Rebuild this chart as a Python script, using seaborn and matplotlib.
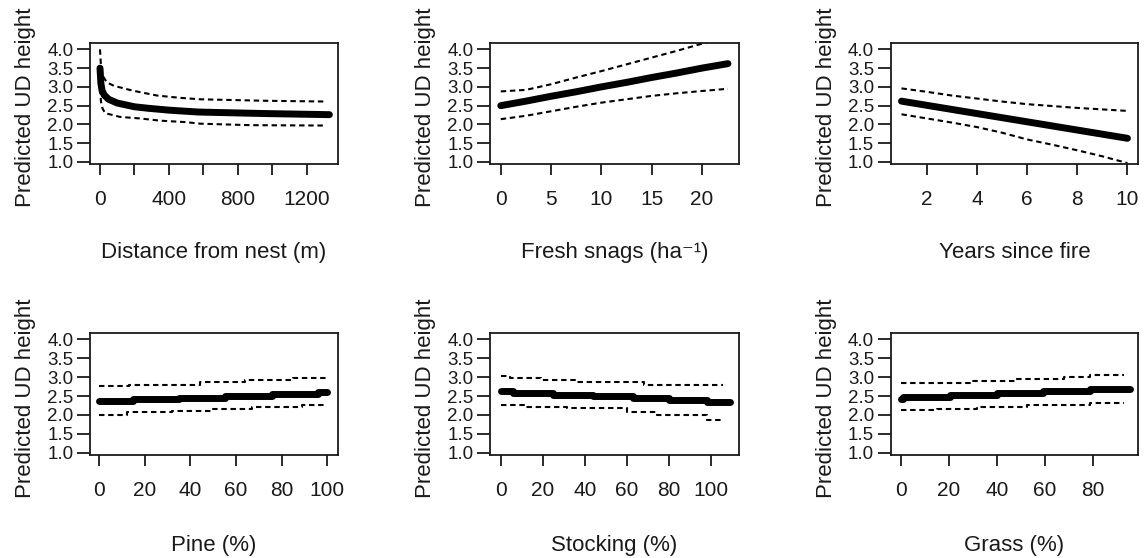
import numpy as np
import pandas as pd
import matplotlib
matplotlib.use("Agg")
import matplotlib.pyplot as plt
import seaborn as sns

sns.set_theme(style="white")
plt.rcParams["font.family"] = ["Liberation Sans", "DejaVu Sans"]

# ---------------- data ----------------
# Panel 1: distance from nest
dist_fit_x = [0, 5, 12, 25, 50, 100, 200, 280, 400, 570, 950, 1330]
dist_fit_y = [3.50, 3.10, 2.90, 2.78, 2.67, 2.57, 2.47, 2.43, 2.38, 2.33, 2.29, 2.26]
dist_up_x = [0, 5, 15, 40, 80, 190, 330, 460, 580, 960, 1310]
dist_up_y = [4.00, 3.60, 3.30, 3.12, 3.03, 2.90, 2.77, 2.71, 2.67, 2.63, 2.61]
dist_lo_x = [0, 6, 15, 30, 116, 230, 350, 500, 580, 870, 1310]
dist_lo_y = [2.95, 2.60, 2.42, 2.30, 2.20, 2.16, 2.10, 2.06, 2.02, 1.98, 1.97]

# Panel 2: fresh snags
snag_x = [0, 2.5, 5, 7.5, 10, 12.5, 15, 17.5, 20, 22.6]
snag_fit = [2.50, 2.62, 2.75, 2.87, 3.00, 3.12, 3.25, 3.37, 3.50, 3.62]
snag_up = [2.88, 2.92, 3.07, 3.25, 3.42, 3.60, 3.78, 3.96, 4.15, 4.33]
snag_lo = [2.14, 2.23, 2.35, 2.47, 2.58, 2.67, 2.76, 2.83, 2.89, 2.95]

# Panel 3: years since fire
fire_x = [1, 2, 3, 4, 5, 6, 7, 8, 9, 10]
fire_fit = [2.62, 2.51, 2.40, 2.29, 2.18, 2.07, 1.96, 1.85, 1.74, 1.63]
fire_up = [2.96, 2.87, 2.77, 2.69, 2.61, 2.54, 2.49, 2.44, 2.40, 2.36]
fire_lo = [2.27, 2.16, 2.05, 1.93, 1.78, 1.60, 1.46, 1.31, 1.15, 0.97]

# Panel 4: pine (%), stepwise predictions
pine_fit_x = [0, 15, 35, 55, 76, 96, 100]
pine_fit_y = [2.36, 2.41, 2.46, 2.51, 2.56, 2.61, 2.61]
pine_up_x = [0, 13, 44, 64, 85, 100]
pine_up_y = [2.77, 2.80, 2.86, 2.92, 2.97, 2.97]
pine_lo_x = [0, 12, 32, 49, 67, 89, 100]
pine_lo_y = [2.01, 2.07, 2.11, 2.17, 2.21, 2.27, 2.27]

# Panel 5: stocking (%)
stock_fit_x = [0, 6, 25, 44, 63, 80, 98, 109]
stock_fit_y = [2.64, 2.59, 2.54, 2.50, 2.45, 2.39, 2.33, 2.33]
stock_up_x = [0, 4.5, 19, 36, 68, 106]
stock_up_y = [3.02, 2.97, 2.93, 2.87, 2.80, 2.80]
stock_lo_x = [0, 12, 31.5, 60, 74.5, 98.4, 106]
stock_lo_y = [2.27, 2.22, 2.18, 2.08, 1.99, 1.86, 1.86]

# Panel 6: grass (%)
grass_fit_x = [0, 1, 20.5, 40, 59.4, 79, 95.5]
grass_fit_y = [2.42, 2.47, 2.52, 2.57, 2.62, 2.68, 2.68]
grass_up_x = [0, 29, 48, 68, 79, 93]
grass_up_y = [2.84, 2.90, 2.95, 3.00, 3.05, 3.05]
grass_lo_x = [0, 15, 31.7, 52.5, 79, 93]
grass_lo_y = [2.12, 2.16, 2.21, 2.27, 2.32, 2.32]

x_labels = ["Distance from nest (m)", "Fresh snags (ha\u207b\u00b9)", "Years since fire",
            "Pine (%)", "Stocking (%)", "Grass (%)"]
y_label = "Predicted UD height"
y_ticks = [1.0, 1.5, 2.0, 2.5, 3.0, 3.5, 4.0]
y_ticklabels = ["1.0", "1.5", "2.0", "2.5", "3.0", "3.5", "4.0"]
x_ticks = [[0, 200, 400, 600, 800, 1000, 1200],
           [0, 5, 10, 15, 20],
           [2, 4, 6, 8, 10],
           [0, 20, 40, 60, 80, 100],
           [0, 20, 40, 60, 80, 100],
           [0, 20, 40, 60, 80]]
x_ticklabels = [["0", "", "400", "", "800", "", "1200"],
                ["0", "5", "10", "15", "20"],
                ["2", "4", "6", "8", "10"],
                ["0", "20", "40", "60", "80", "100"],
                ["0", "20", "40", "60", "80", "100"],
                ["0", "20", "40", "60", "80"]]

panels = [
    dict(fit=(dist_fit_x, dist_fit_y), up=(dist_up_x, dist_up_y), lo=(dist_lo_x, dist_lo_y),
         steps=False, xlim=(-58, 1380)),
    dict(fit=(snag_x, snag_fit), up=(snag_x, snag_up), lo=(snag_x, snag_lo),
         steps=False, xlim=(-1.07, 23.7)),
    dict(fit=(fire_x, fire_fit), up=(fire_x, fire_up), lo=(fire_x, fire_lo),
         steps=False, xlim=(0.57, 10.42)),
    dict(fit=(pine_fit_x, pine_fit_y), up=(pine_up_x, pine_up_y), lo=(pine_lo_x, pine_lo_y),
         steps=True, xlim=(-4.1, 104.8)),
    dict(fit=(stock_fit_x, stock_fit_y), up=(stock_up_x, stock_up_y), lo=(stock_lo_x, stock_lo_y),
         steps=True, xlim=(-5.1, 113.4)),
    dict(fit=(grass_fit_x, grass_fit_y), up=(grass_up_x, grass_up_y), lo=(grass_lo_x, grass_lo_y),
         steps=True, xlim=(-4.2, 98.9)),
]

# ---------------- layout ----------------
W, H = 1146, 558
fig = plt.figure(figsize=(W / 100, H / 100), dpi=100)
fig.patch.set_facecolor("white")

lefts = [90, 490, 890.7]
rights = [338, 739, 1138]
rows = [(43, 164), (332.7, 455)]
ink = "#1a1a1a"

for i, p in enumerate(panels):
    r, c = divmod(i, 3)
    top, bot = rows[r]
    l, rt = lefts[c], rights[c]
    ax = fig.add_axes([l / W, 1 - bot / H, (rt - l) / W, (bot - top) / H])
    ds = "steps-post" if p["steps"] else "default"
    for key, lw, ls in (("up", 1.5, (0, (2.6, 1.8))), ("lo", 1.5, (0, (2.6, 1.8))),
                        ("fit", 5.0, "-")):
        xs, ys = p[key]
        df = pd.DataFrame({"x": xs, "y": ys})
        sns.lineplot(data=df, x="x", y="y", ax=ax, color="black", linewidth=lw,
                     linestyle=ls, drawstyle=ds, estimator=None, sort=True,
                     solid_capstyle="round" if key == "fit" else "butt")
    ax.set_xlim(*p["xlim"])
    ax.set_ylim(0.945, 4.17)
    ax.set_xticks(x_ticks[i])
    ax.set_xticklabels(x_ticklabels[i], fontsize=15, color=ink)
    ax.set_yticks(y_ticks)
    ax.set_yticklabels(y_ticklabels, fontsize=13.5, color=ink)
    ax.tick_params(axis="x", direction="out", length=8, width=1.3, color=ink,
                   bottom=True, pad=10.5)
    ax.tick_params(axis="y", direction="out", length=9.5, width=1.3, color=ink,
                   left=True, pad=2.5)
    for s in ax.spines.values():
        s.set_visible(True)
        s.set_color(ink)
        s.set_linewidth(1.3)
    ax.grid(False)
    ax.set_facecolor("white")
    wpx, hpx = rt - l, bot - top
    ax.set_ylabel(y_label, fontsize=16, color=ink)
    ax.yaxis.set_label_coords(-54 / wpx, 0.5 - 4 / hpx)
    ax.set_xlabel(x_labels[i], fontsize=16, color=ink)
    ax.xaxis.set_label_coords(0.5, -(78 if r == 0 else 80) / hpx)

fig.savefig("out.png", dpi=100, facecolor="white")
